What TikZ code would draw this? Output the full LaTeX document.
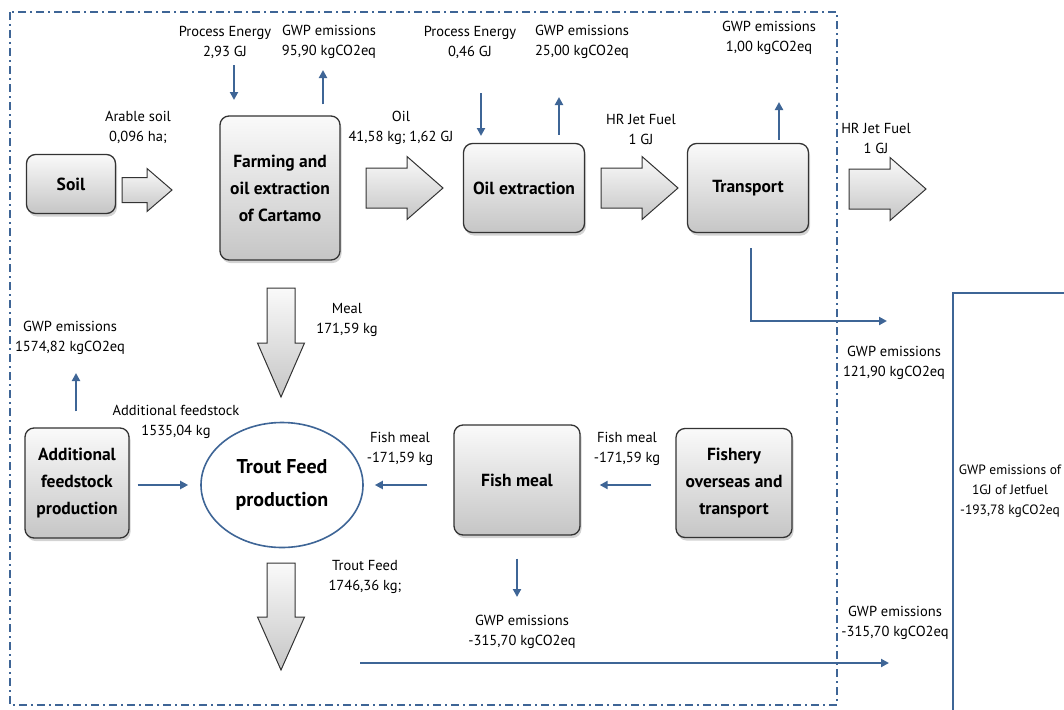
\documentclass[tikz,border=0pt]{standalone}
\usepackage{fontspec}
\setmainfont{PT Sans}
\usepackage{tikz}
\usetikzlibrary{shapes.geometric,arrows.meta,shadows}
\usepackage{xcolor}

\definecolor{flowblue}{RGB}{62,101,150}
\newcommand{\lblfont}{\fontsize{14.5}{20}\selectfont}
\newcommand{\boxfont}{\fontsize{17.5}{27}\selectfont\bfseries}
\newcommand{\feedfont}{\fontsize{20}{33}\selectfont\bfseries}

% fat block arrow: length, shaft width, head width, head length
\tikzset{pics/fatarrow/.style n args={4}{code={
    \path[bigarrow] (0,{-#2/2}) -- ({#1-#4},{-#2/2}) -- ({#1-#4},{-#3/2}) -- (#1,0)
        -- ({#1-#4},{#3/2}) -- ({#1-#4},{#2/2}) -- (0,{#2/2}) -- cycle;
}}}

\begin{document}
\begin{tikzpicture}[
    x=1pt, y=-1pt,
    block/.style={rectangle, draw=black!80, line width=1.3, rounded corners=9, top color=gray!4, bottom color=gray!45, drop shadow={shadow xshift=1.5pt, shadow yshift=-3pt, opacity=0.35}, align=center, font=\boxfont, inner sep=2},
    bigarrow/.style={draw=black!80, line width=1, top color=gray!4, bottom color=gray!45},
    lbl/.style={align=center, font=\lblfont, inner sep=1},
    flow/.style={->, >={Triangle[length=8pt,width=8pt]}, draw=flowblue, line width=2},
    frame/.style={draw=flowblue, line width=2, dash pattern=on 8pt off 4pt on 2pt off 4pt}
]
\clip (0,0) rectangle (1064,709);

% System boundary
\draw[frame] (10,12) rectangle (837,705);

% Process boxes
\node[block, minimum width=89, minimum height=59] (soil) at (71,184) {Soil};
\node[block, minimum width=120, minimum height=144] (farm) at (280,188) {Farming and\\oil extraction\\of Cartamo};
\node[block, minimum width=121, minimum height=89] (oilex) at (524,188) {Oil extraction};
\node[block, minimum width=121, minimum height=89] (transp) at (748,188) {Transport};
\node[block, minimum width=104, minimum height=110] (addfeed) at (77,483) {Additional\\feedstock\\production};
\node[ellipse, draw=flowblue, line width=1.6, fill=white, minimum width=162, minimum height=125, align=center, font=\feedfont] (tfp) at (282,485) {Trout Feed\\production};
\node[block, minimum width=126, minimum height=110] (fishmeal) at (517,480) {Fish meal};
\node[block, minimum width=116, minimum height=109] (fishery) at (734,483) {Fishery\\overseas and\\transport};

% Total for the jet fuel
\node[draw=flowblue, line width=2, anchor=north west, minimum width=140, minimum height=440] (jet) at (952,292) {};
\node[lbl, font=\fontsize{13.5}{20}\selectfont] (jettext) at (1010,491) {GWP emissions of\\1GJ of Jetfuel\\-193,78 kgCO2eq};

% Main mass flows
\pic (soilflow) at (122,190) {fatarrow={50}{25}{43}{25}};
\pic (oilflow) at (366,188) {fatarrow={77}{40}{63}{36}};
\pic (fuelflow) at (601,188) {fatarrow={77}{40}{63}{36}};
\pic (fuelout) at (849,189) {fatarrow={77}{40}{63}{36}};
\pic[rotate=-90] (mealflow) at (281,288) {fatarrow={109}{28}{47}{54}};
\pic[rotate=-90] (feedout) at (281,563) {fatarrow={107}{28}{47}{53}};

% Flow labels
\node[lbl] (arable) at (138,127) {Arable soil\\0,096 ha;};
\node[lbl] (pe1) at (225,42) {Process Energy\\2,93 GJ};
\node[lbl] (gwp1) at (329,42) {GWP emissions\\95,90 kgCO2eq};
\node[lbl] (oil) at (401,128) {Oil\\41,58 kg; 1,62 GJ};
\node[lbl] (pe2) at (470,42) {Process Energy\\0,46 GJ};
\node[lbl] (gwp2) at (582,42) {GWP emissions\\25,00 kgCO2eq};
\node[lbl] (hr1) at (641,129) {HR Jet Fuel\\1 GJ};
\node[lbl] (gwp3) at (769,38) {GWP emissions\\1,00 kgCO2eq};
\node[lbl] (hr2) at (876,138) {HR Jet Fuel\\1 GJ};
\node[lbl] (gwp4) at (894,363) {GWP emissions\\121,90 kgCO2eq};
\node[lbl] (meal) at (347,320) {Meal\\171,59 kg};
\node[lbl] (gwp5) at (70,338) {GWP emissions\\1574,82 kgCO2eq};
\node[lbl] (addl) at (176,422) {Additional feedstock\\1535,04 kg};
\node[lbl] (fish1) at (400,449) {Fish meal\\-171,59 kg};
\node[lbl] (fish2) at (627,449) {Fish meal\\-171,59 kg};
\node[lbl] (gwp6) at (522,632) {GWP emissions\\-315,70 kgCO2eq};
\node[lbl] (trout) at (365,577) {Trout Feed\\1746,36 kg;};
\node[lbl] (gwp7) at (895,623) {GWP emissions\\-315,70 kgCO2eq};

% Arrow tips of the energy and emission flows
\coordinate (pe1tip) at (234,100);
\coordinate (gwp1tip) at (323,70);
\coordinate (pe2tip) at (481,136);
\coordinate (gwp2tip) at (559,97);
\coordinate (gwp3tip) at (779,102);
\coordinate (gwp4tip) at (887,321);
\coordinate (gwp5tip) at (76,373);
\coordinate (gwp6tip) at (517,597);
\coordinate (gwp7tail) at (360,663);
\coordinate (gwp7tip) at (889,663);

% Arrows
\draw[flow, shorten <=6] (pe1.south -| pe1tip) -- (pe1tip);
\draw[flow, shorten <=11] (farm.north -| gwp1tip) -- (gwp1tip);
\draw[flow, shorten <=34] (pe2.south -| pe2tip) -- (pe2tip);
\draw[flow, shorten <=8] (oilex.north -| gwp2tip) -- (gwp2tip);
\draw[flow, shorten <=3] (transp.north -| gwp3tip) -- (gwp3tip);
\draw[flow, shorten <=15] ([xshift=3]transp.south) |- (gwp4tip);
\draw[flow, shorten <=16] (addfeed.north -| gwp5tip) -- (gwp5tip);
\draw[flow, shorten <=8, shorten >=12] (addfeed.east |- tfp) -- (tfp.west);
\draw[flow, shorten <=26, shorten >=11] (fishmeal.west |- tfp) -- (tfp.east);
\draw[flow, shorten <=24, shorten >=19] (fishery.west |- tfp) -- (fishmeal.east |- tfp);
\draw[flow, shorten <=23] (fishmeal.south) -- (gwp6tip);
\draw[flow] (gwp7tail) -- (gwp7tip);

\end{tikzpicture}
\end{document}
